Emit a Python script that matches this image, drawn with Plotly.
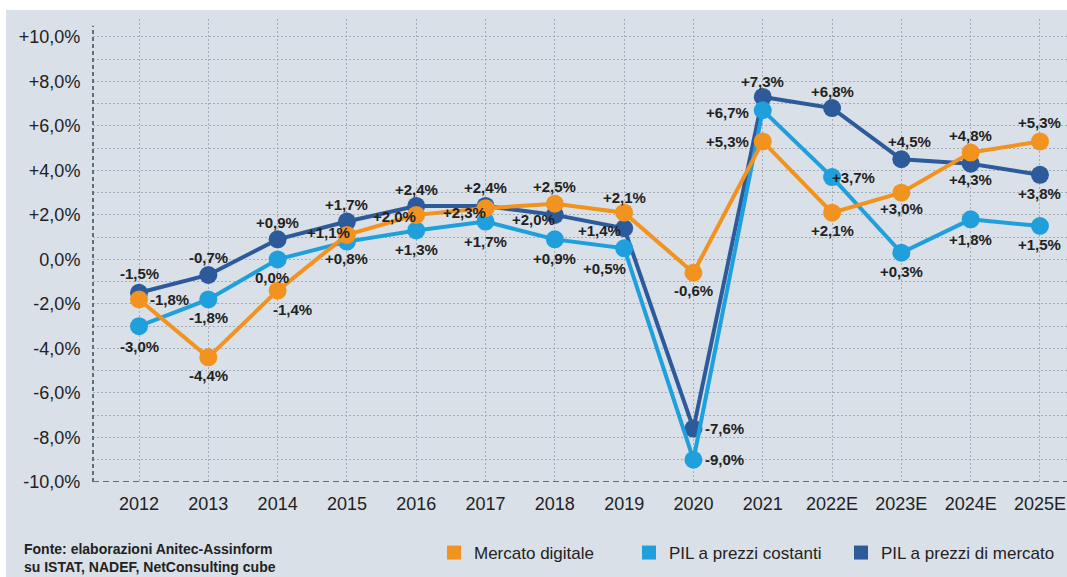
import plotly.graph_objects as go

# ---- data -------------------------------------------------------------
years = ["2012", "2013", "2014", "2015", "2016", "2017", "2018", "2019",
         "2020", "2021", "2022E", "2023E", "2024E", "2025E"]
mercato_digitale = [-1.8, -4.4, -1.4, 1.1, 2.0, 2.3, 2.5, 2.1, -0.6, 5.3, 2.1, 3.0, 4.8, 5.3]
pil_costanti = [-3.0, -1.8, 0.0, 0.8, 1.3, 1.7, 0.9, 0.5, -9.0, 6.7, 3.7, 0.3, 1.8, 1.5]
pil_mercato = [-1.5, -0.7, 0.9, 1.7, 2.4, 2.4, 2.0, 1.4, -7.6, 7.3, 6.8, 4.5, 4.3, 3.8]
y_tick_values = [-10, -8, -6, -4, -2, 0, 2, 4, 6, 8, 10]

series_names = ["Mercato digitale", "PIL a prezzi costanti", "PIL a prezzi di mercato"]

# ---- style ------------------------------------------------------------
ORANGE = "#f2921f"
LIGHT = "#1fa0dd"
DARK = "#2c5a9b"
BG = "#d9e0e7"
GRID = "#a3adb7"
AXIS = "#676d75"
TEXT = "#222222"
FONT = "Liberation Sans, Arial, sans-serif"

# value-label offsets in pixels (dx right, dy down) for each point
off_orange = [(30, 0), (0, 18), (15, 19), (-18, -2), (-22, 2), (-21, 4), (0, -17),
              (0, -15), (0, 18), (-35, 0), (0, 18), (0, 16), (0, -17), (0, -19)]
off_light = [(0, 20), (0, 18), (-6, 18), (0, 17), (0, 19), (0, 20), (0, 19),
             (-20, 20), (31, 0), (-35, 2), (21, 0), (0, 19), (0, 20), (0, 18)]
off_dark = [(0, -19), (0, -17), (0, -17), (0, -17), (0, -16), (0, -18), (-21, 5),
            (-25, 2), (31, 0), (0, -15), (0, -17), (8, -18), (0, 16), (0, 19)]


def pct(v, signed=True):
    s = f"{abs(v):.1f}".replace(".", ",") + "%"
    if v > 0 and signed:
        return "+" + s
    if v < 0:
        return "-" + s
    return s


x = list(range(len(years)))

fig = go.Figure()

# lines drawn bottom to top: dark, light, orange
for vals, col in [(pil_mercato, DARK), (pil_costanti, LIGHT), (mercato_digitale, ORANGE)]:
    fig.add_trace(go.Scatter(
        x=x, y=vals, mode="lines+markers",
        line=dict(color=col, width=4),
        marker=dict(color=col, size=18),
        showlegend=False, hoverinfo="skip",
    ))

# legend entries as squares, one legend box each so they can be spaced freely
legend_ids = ["legend", "legend2", "legend3"]
for name, col, lg in zip(series_names, [ORANGE, LIGHT, DARK], legend_ids):
    fig.add_trace(go.Scatter(
        x=[None], y=[None], mode="markers", name=name, legend=lg,
        marker=dict(color=col, size=14, symbol="square"),
    ))

annotations = []
for vals, offs in [(pil_mercato, off_dark), (pil_costanti, off_light), (mercato_digitale, off_orange)]:
    for xi, v, (dx, dy) in zip(x, vals, offs):
        annotations.append(dict(
            x=xi, y=v, xref="x", yref="y", text=pct(v), showarrow=False,
            xanchor="center", yanchor="middle", xshift=dx, yshift=-dy,
            font=dict(family=FONT, size=15, color=TEXT, weight="bold"),
        ))

# source note
for text, ypix in [("Fonte: elaborazioni Anitec-Assinform", 549),
                   ("su ISTAT, NADEF, NetConsulting cube", 567)]:
    annotations.append(dict(
        xref="paper", yref="paper", x=(22 - 93) / 974, y=(482 - ypix) / 463,
        xanchor="left", yanchor="middle", showarrow=False, text=text,
        font=dict(family=FONT, size=14, color=TEXT, weight="bold"),
    ))

shapes = [
    # panel background
    dict(type="rect", xref="paper", yref="paper",
         x0=(6 - 93) / 974, x1=1.05, y0=-0.3, y1=(482 - 10) / 463,
         fillcolor=BG, line=dict(width=0), layer="below"),
    # dashed y axis line
    dict(type="line", xref="paper", yref="y", x0=0, x1=0, y0=-10, y1=10.5,
         line=dict(color=AXIS, width=2, dash="4px,3px")),
    # dashed x axis line
    dict(type="line", xref="paper", yref="y", x0=0, x1=1, y0=-10, y1=-10,
         line=dict(color=AXIS, width=2, dash="6px,4px")),
]


def legend_box(xpix):
    return dict(
        orientation="h", x=(xpix - 93) / 974, y=(482 - 553) / 463,
        xanchor="left", yanchor="middle", bgcolor="rgba(0,0,0,0)",
        font=dict(family=FONT, size=17, color=TEXT),
    )


fig.update_layout(
    width=1067, height=577,
    margin=dict(l=93, r=0, t=19, b=95),
    paper_bgcolor="white", plot_bgcolor="rgba(0,0,0,0)",
    font=dict(family=FONT, color=TEXT),
    xaxis=dict(
        range=[-0.664, 13.39], tickvals=x, ticktext=years,
        showgrid=True, gridcolor=GRID, gridwidth=1, griddash="2px,2px",
        zeroline=False, showline=False,
        ticks="outside", ticklen=5, tickcolor="rgba(0,0,0,0)",
        tickfont=dict(family=FONT, size=18, color=TEXT),
    ),
    yaxis=dict(
        range=[-10, 10.8], tickvals=y_tick_values,
        ticktext=[pct(v) for v in y_tick_values],
        showgrid=True, gridcolor=GRID, gridwidth=1, griddash="2px,2px",
        minor=dict(dtick=1, tick0=0, showgrid=True, gridcolor=GRID,
                   gridwidth=1, griddash="2px,2px"),
        zeroline=False, showline=False,
        ticks="outside", ticklen=8, tickcolor="rgba(0,0,0,0)",
        tickfont=dict(family=FONT, size=18, color=TEXT),
    ),
    legend=legend_box(434),
    legend2=legend_box(629),
    legend3=legend_box(841),
    annotations=annotations,
    shapes=shapes,
)

fig.write_html("out.html")
